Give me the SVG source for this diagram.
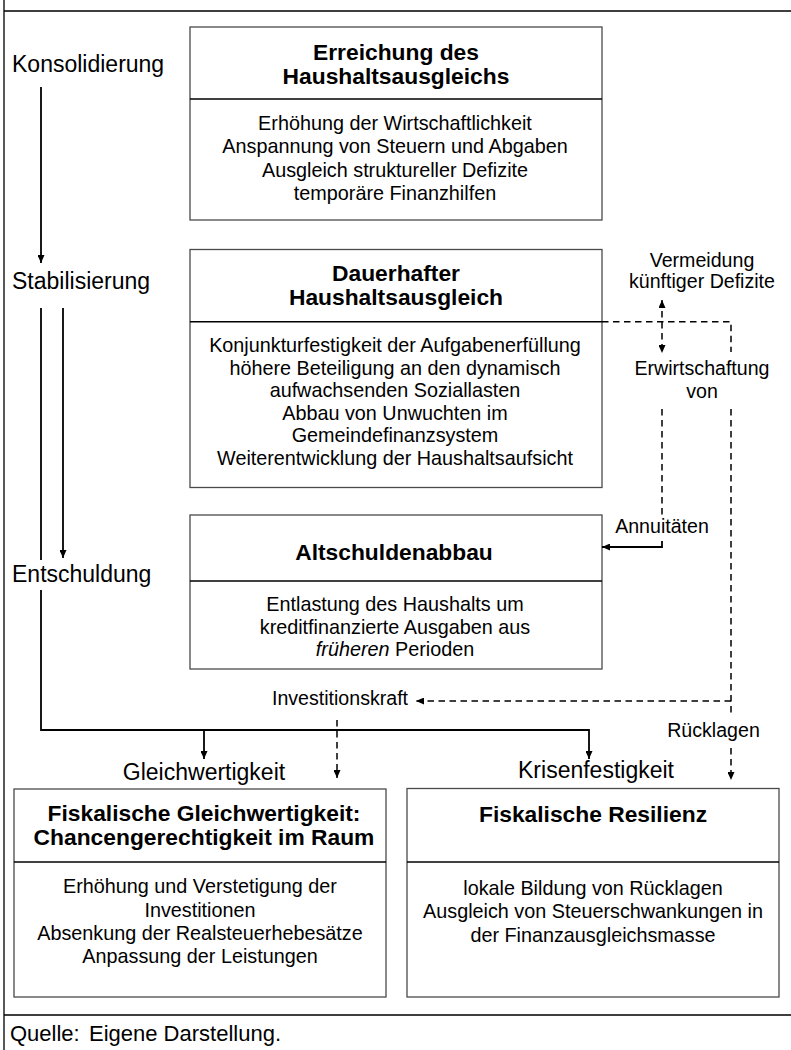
<svg xmlns="http://www.w3.org/2000/svg" width="791" height="1050" viewBox="0 0 791 1050">
<defs>
<style>
text{font-family:"Liberation Sans",Arial,sans-serif;fill:#000}
.lab{font-size:23px}
.sm{font-size:19.6px;text-anchor:middle}
.ttl{font-size:22.8px;font-weight:bold;text-anchor:middle}
.body{font-size:19.8px;text-anchor:middle}
.box{fill:#fff;stroke:#4a4a4a;stroke-width:1.3}
.dv{stroke:#000;stroke-width:1.5}
.frame{stroke:#000;stroke-width:1.3;fill:none}
.solid{stroke:#000;stroke-width:1.8;fill:none}
.dash{stroke:#000;stroke-width:1.5;fill:none;stroke-dasharray:6.5 4.5}
</style>
<marker id="ah" viewBox="0 0 8 7" refX="8" refY="3.5" markerWidth="8" markerHeight="7" markerUnits="userSpaceOnUse" orient="auto-start-reverse"><path d="M0,0 L8,3.5 L0,7 z" fill="#000"/></marker>
</defs>
<rect x="0" y="0" width="791" height="1050" fill="#fff"/>
<g id="frame">
<path class="frame" d="M4,11 H791 M4,0 V1050 M4,1015 H791"/>
<text x="10" y="1041" style="font-size:22px">Quelle:</text>
<text x="89" y="1041" style="font-size:22px">Eigene Darstellung.</text>
</g>
<g id="phases">
<text class="lab" x="12" y="72">Konsolidierung</text>
<text class="lab" x="12" y="288.5">Stabilisierung</text>
<text class="lab" x="12" y="581.5">Entschuldung</text>
<text class="lab" x="204" y="779.5" text-anchor="middle">Gleichwertigkeit</text>
<text class="lab" x="596" y="778" text-anchor="middle">Krisenfestigkeit</text>
</g>
<g id="box1">
<rect class="box" x="190" y="27" width="412" height="193"/>
<line class="dv" x1="190" y1="99" x2="602" y2="99"/>
<text class="ttl" x="396" y="60">Erreichung des</text>
<text class="ttl" x="396" y="83.6">Haushaltsausgleichs</text>
<text class="body" x="395" y="130">Erhöhung der Wirtschaftlichkeit</text>
<text class="body" x="395" y="153.4">Anspannung von Steuern und Abgaben</text>
<text class="body" x="395" y="176.8">Ausgleich struktureller Defizite</text>
<text class="body" x="395" y="200.2">temporäre Finanzhilfen</text>
</g>
<g id="box2">
<rect class="box" x="190" y="249.5" width="412" height="238"/>
<line class="dv" x1="190" y1="321.7" x2="602" y2="321.7"/>
<text class="ttl" x="396" y="281">Dauerhafter</text>
<text class="ttl" x="396" y="304.6">Haushaltsausgleich</text>
<text class="body" x="395" y="352">Konjunkturfestigkeit der Aufgabenerfüllung</text>
<text class="body" x="395" y="374.5">höhere Beteiligung an den dynamisch</text>
<text class="body" x="395" y="397">aufwachsenden Soziallasten</text>
<text class="body" x="395" y="419.5">Abbau von Unwuchten im</text>
<text class="body" x="395" y="442">Gemeindefinanzsystem</text>
<text class="body" x="395" y="464.5">Weiterentwicklung der Haushaltsaufsicht</text>
</g>
<g id="box3">
<rect class="box" x="190" y="515" width="412" height="154"/>
<line class="dv" x1="190" y1="581" x2="602" y2="581"/>
<text class="ttl" x="394" y="560">Altschuldenabbau</text>
<text class="body" x="395" y="611">Entlastung des Haushalts um</text>
<text class="body" x="395" y="633.5">kreditfinanzierte Ausgaben aus</text>
<text class="body" x="395" y="656"><tspan font-style="italic">früheren</tspan> Perioden</text>
</g>
<g id="box4">
<rect class="box" x="14" y="789" width="372" height="208"/>
<line class="dv" x1="14" y1="862" x2="386" y2="862"/>
<text class="ttl" x="204" y="821.4">Fiskalische Gleichwertigkeit:</text>
<text class="ttl" x="204" y="845.1">Chancengerechtigkeit im Raum</text>
<text class="body" x="200" y="893.3">Erhöhung und Verstetigung der</text>
<text class="body" x="200" y="916.6">Investitionen</text>
<text class="body" x="200" y="939.9">Absenkung der Realsteuerhebesätze</text>
<text class="body" x="200" y="963.2">Anpassung der Leistungen</text>
</g>
<g id="box5">
<rect class="box" x="407" y="788.5" width="372" height="208.5"/>
<line class="dv" x1="407" y1="862" x2="779" y2="862"/>
<text class="ttl" x="593" y="821.7">Fiskalische Resilienz</text>
<text class="body" x="593" y="895">lokale Bildung von Rücklagen</text>
<text class="body" x="593" y="918.3">Ausgleich von Steuerschwankungen in</text>
<text class="body" x="593" y="941.6">der Finanzausgleichsmasse</text>
</g>
<g id="flowlabels">
<text class="sm" x="702" y="266.7">Vermeidung</text>
<text class="sm" x="702" y="288">künftiger Defizite</text>
<text class="sm" x="702" y="375">Erwirtschaftung</text>
<text class="sm" x="702" y="398">von</text>
<text class="sm" x="662" y="533">Annuitäten</text>
<text class="sm" x="340" y="705">Investitionskraft</text>
<text class="sm" x="713.5" y="737">Rücklagen</text>
</g>
<g id="connectors">
<path class="solid" d="M41,87 V263" marker-end="url(#ah)"/>
<path class="solid" d="M41,308 V560"/>
<path class="solid" d="M41,590 V730 H589 V759" marker-end="url(#ah)"/>
<path class="solid" d="M63,308 V558" marker-end="url(#ah)"/>
<path class="solid" d="M204,730 V759" marker-end="url(#ah)"/>
<path class="solid" d="M662,541 V547 H602" marker-end="url(#ah)"/>
<path class="dash" d="M602,321.7 H731 V352"/>
<path class="dash" d="M662,300 V353" marker-start="url(#ah)" marker-end="url(#ah)"/>
<path class="dash" d="M662,409 V517"/>
<path class="dash" d="M731,409 V713"/>
<path class="dash" d="M731,701 H416" marker-end="url(#ah)"/>
<path class="dash" d="M337,720 V778" marker-end="url(#ah)"/>
<path class="dash" d="M731,748 V780" marker-end="url(#ah)"/>
</g>
</svg>
